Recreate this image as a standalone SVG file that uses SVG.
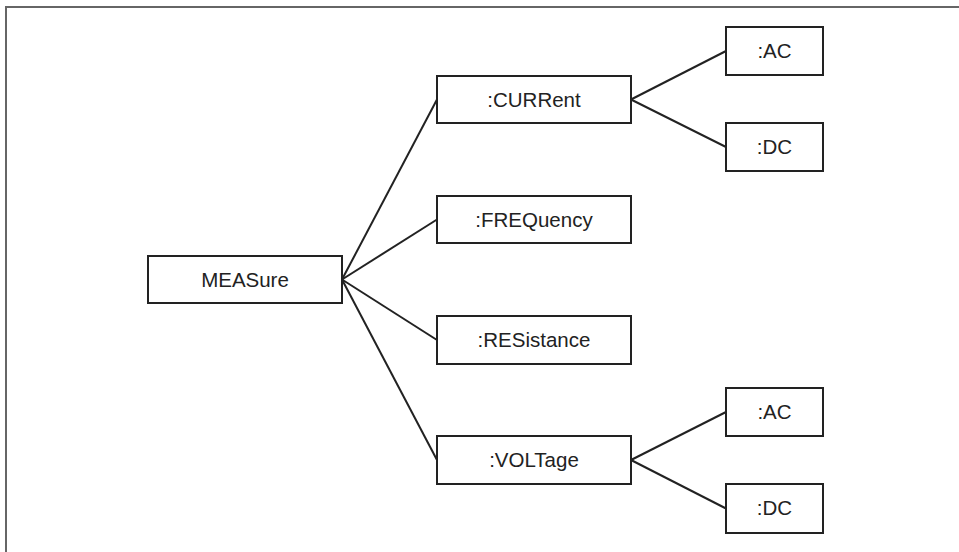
<svg xmlns="http://www.w3.org/2000/svg" width="959" height="552" viewBox="0 0 959 552">
<style>
.box{fill:#fff;stroke:#222;stroke-width:2}
.lbl{font-family:"Liberation Sans",Arial,sans-serif;font-size:20.5px;fill:#222;text-anchor:middle}
.conn line{stroke:#222;stroke-width:2}
</style>
<rect width="959" height="552" fill="#fff"/>
<polyline points="6,552 6,7 959,7" fill="none" stroke="#666" stroke-width="2"/>
<g class="conn" id="connectors">
<line x1="342" y1="279.5" x2="437" y2="99.5"/>
<line x1="342" y1="279.5" x2="437" y2="219.5"/>
<line x1="342" y1="279.5" x2="437" y2="340"/>
<line x1="342" y1="279.5" x2="437" y2="460"/>
<line x1="631" y1="99.5" x2="726" y2="51"/>
<line x1="631" y1="99.5" x2="726" y2="147"/>
<line x1="631" y1="460" x2="726" y2="412"/>
<line x1="631" y1="460" x2="726" y2="508.5"/>
</g>
<g id="measure"><rect class="box" x="148" y="256" width="194" height="47"/><text class="lbl" x="245" y="287">MEASure</text></g>
<g id="current"><rect class="box" x="437" y="76" width="194" height="47"/><text class="lbl" x="534" y="107">:CURRent</text></g>
<g id="frequency"><rect class="box" x="437" y="196" width="194" height="47"/><text class="lbl" x="534" y="227">:FREQuency</text></g>
<g id="resistance"><rect class="box" x="437" y="316" width="194" height="48"/><text class="lbl" x="534" y="347">:RESistance</text></g>
<g id="voltage"><rect class="box" x="437" y="436" width="194" height="48"/><text class="lbl" x="534" y="467">:VOLTage</text></g>
<g id="current-ac"><rect class="box" x="726" y="27" width="97" height="48"/><text class="lbl" x="774.5" y="58">:AC</text></g>
<g id="current-dc"><rect class="box" x="726" y="123" width="97" height="48"/><text class="lbl" x="774.5" y="154">:DC</text></g>
<g id="voltage-ac"><rect class="box" x="726" y="388" width="97" height="48"/><text class="lbl" x="774.5" y="419">:AC</text></g>
<g id="voltage-dc"><rect class="box" x="726" y="484" width="97" height="49"/><text class="lbl" x="774.5" y="515">:DC</text></g>
</svg>
